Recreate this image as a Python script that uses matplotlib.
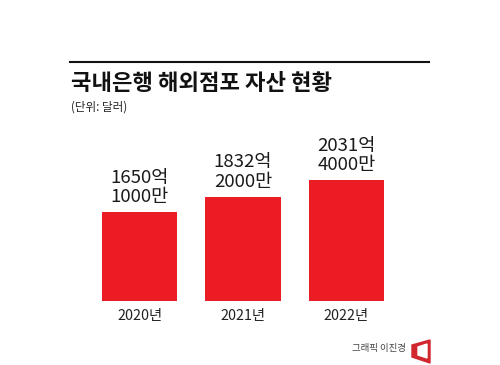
# chart of overseas branch assets
import matplotlib
matplotlib.use("Agg")
import matplotlib.pyplot as plt
from matplotlib.lines import Line2D
from matplotlib.patches import Polygon

plt.rcParams['font.family'] = ['Noto Sans CJK KR', 'DejaVu Sans']

years = ["2020년", "2021년", "2022년"]
values = [1650.1, 1832.2, 2031.4]  # 억 달러
value_labels = ["1650억\n1000만", "1832억\n2000만", "2031억\n4000만"]

title = "국내은행 해외점포 자산 현황"
unit = "(단위: 달러)"
credit = "그래픽 이진경"

W, H = 500, 365
RED = "#ec1c24"

fig = plt.figure(figsize=(W / 100, H / 100), dpi=100)
# pixel helpers, y counted from the top like in the picture
fx = lambda x: x / W
fy = lambda y: 1 - y / H

# bars, the axis does not start at zero in the original
ax = fig.add_axes([fx(88), fy(300.5), 310 / W, 120.5 / H])
ax.bar(years, values, width=0.726, color=RED)
ax.set_xlim(-0.5, 2.5)
ax.set_ylim(595, 2031.4)
ax.set_yticks([])
ax.tick_params(axis='x', length=0, pad=6, labelsize=10.3, colors="#222222")
for side in ax.spines.values():
    side.set_visible(False)
ax.patch.set_alpha(0)

for i, v in enumerate(values):
    ax.annotate(value_labels[i], (i, v), xytext=(0, 4), textcoords='offset points',
                ha='center', va='bottom', fontsize=13.4, linespacing=1.12, color="#1a1a1a")

# header
fig.add_artist(Line2D([fx(70), fx(429)], [fy(62), fy(62)], color="#111111", lw=1.5))
fig.text(fx(71), fy(83.5), title, fontsize=16, fontweight='bold', va='center', ha='left', color="#111111")
fig.text(fx(71), fy(107), unit, fontsize=8.3, va='center', ha='left', color="#222222")

# credit and logo
fig.text(fx(406), fy(349), credit, fontsize=6.8, va='center', ha='right', color="#444444")
outer = [(430, 340), (412, 345), (412, 357), (430, 363)]
inner = [(427, 344), (418, 347), (418, 355), (427, 358)]
fig.add_artist(Polygon([(fx(x), fy(y)) for x, y in outer], closed=True, color="#d0262e", transform=fig.transFigure))
fig.add_artist(Polygon([(fx(x), fy(y)) for x, y in inner], closed=True, color="white", transform=fig.transFigure))

fig.savefig("out.png", dpi=100)
